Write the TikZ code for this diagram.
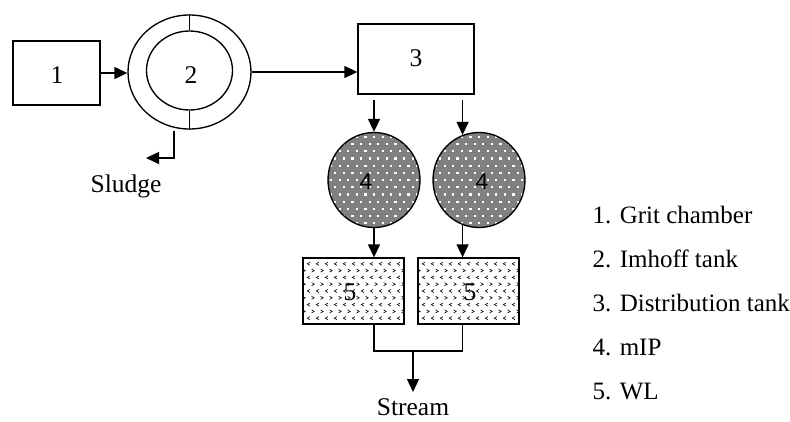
\documentclass[tikz,border=0pt]{standalone}
\usepackage{fontspec}
\setmainfont{Liberation Serif}
\newfontfamily\arialf{Liberation Sans}
\usetikzlibrary{arrows.meta,shapes.geometric}
\definecolor{dotgray}{HTML}{808080}
\begin{document}
\begin{tikzpicture}[x=1pt,y=-1pt,
  line width=1.35pt,
  box/.style={draw,rectangle,inner sep=0pt},
  ring/.style={draw,ellipse,inner sep=0pt},
  lbl/.style={font=\fontsize{25.5}{30}\selectfont,anchor=base,inner sep=0pt},
  leg/.style={font=\fontsize{25}{30}\selectfont,anchor=base west,inner sep=0pt},
  arr/.style={-{Triangle[length=13pt,width=12pt]}},
  dotfill/.style={fill=dotgray,
    path picture={
      \foreach \j in {-7,...,7}{
        \foreach \i in {-6,...,6}{
          \pgfmathsetmacro\xx{\i*8.6+mod(\j+8,2)*4.3-1.1}
          \pgfmathsetmacro\yy{\j*7.2-1.1}
          \fill[white] ([shift={(\xx,\yy)}]path picture bounding box.center) rectangle +(2.2,2.2);
        }}
    }},
  chevfill/.style={
    path picture={
      \foreach \j in {-5,...,5}{
        \foreach \i in {-6,...,6}{
          \pgfmathsetmacro\xx{\i*9+mod(\j+6,2)*4.5}
          \pgfmathsetmacro\yy{\j*6.8}
          \pgfmathsetmacro\dd{ifthenelse(mod(\j+6,2)==0,1,-1)}
          \draw[line width=0.6pt] ([shift={(\xx+1.4*\dd,\yy-1.5)}]path picture bounding box.center)
             -- ++(-2.6*\dd,1.5) -- ++(2.6*\dd,1.5);
        }}
    }},
  ]
\useasboundingbox (0,0) rectangle (790,421);

% 1 grit chamber
\node[box,minimum width=87pt,minimum height=64pt] (b1) at (56.5,73) {};
\node[lbl] (l1) at (57,83) {1};

% 2 Imhoff tank
\node[ring,minimum width=123pt,minimum height=114pt] (c2o) at (189.5,72) {};
\node[ring,minimum width=86pt,minimum height=79pt] (c2i) at (189.5,70.5) {};
\node[lbl] (l2) at (191,83) {2};
\draw (c2o.north) -- (c2i.north);
\draw (c2i.south) -- (c2o.south);

% 3 distribution tank
\node[box,minimum width=116pt,minimum height=70pt] (b3) at (416,59) {};
\node[lbl] (l3) at (416,66) {3};

% 4 mIP
\node[ring,dotfill,minimum width=92pt,minimum height=95pt] (c4a) at (374,180) {};
\node[ring,dotfill,minimum width=92pt,minimum height=95pt] (c4b) at (479,180) {};
\node[lbl,font=\arialf\fontsize{23}{27}\selectfont] (l4a) at (366,189) {4};
\node[lbl,font=\arialf\fontsize{23}{27}\selectfont] (l4b) at (482,189) {4};

% 5 WL
\node[box,chevfill,minimum width=101pt,minimum height=66pt] (b5a) at (353.5,291) {};
\node[box,chevfill,minimum width=101pt,minimum height=66pt] (b5b) at (468.5,291) {};
\node[lbl] (l5a) at (350,300) {5};
\node[lbl] (l5b) at (470,300) {5};

% connectors
\draw[arr] (b1.east) -- (b1.east -| c2o.west);
\coordinate (s1) at (174,131);
\coordinate (s2) at (146,158);
\draw[arr] (s1) |- (s2);
\node[lbl] (sl) at (126,192) {Sludge};

\draw[arr] (c2o.east) -- (c2o.east -| b3.west);

\draw[arr] ([yshift=-5pt]b3.south -| c4a.north) -- (c4a.north);
\draw[arr] ([yshift=-5pt]b3.south -| c4b.110) -- (c4b.110);

\draw[arr] (c4a.south) -- (b5a.north -| c4a.south);
\draw[arr] (c4b.-110) -- (b5b.north -| c4b.-110);

\coordinate (j) at (413,351);
\coordinate (se) at (413,392);
\draw (b5a.south -| c4a.south) |- (j) -| (b5b.south -| c4b.-110);
\draw[arr] (j) -- (se);
\node[lbl] (st) at (413,415) {Stream};

% legend
\node[leg] (g1) at (592,223) {1. Grit chamber};
\node[leg] (g2) at (592,267) {2. Imhoff tank};
\node[leg] (g3) at (592,311) {3. Distribution tank};
\node[leg] (g4) at (592,355) {4. mIP};
\node[leg] (g5) at (592,399) {5. WL};
\end{tikzpicture}
\end{document}
